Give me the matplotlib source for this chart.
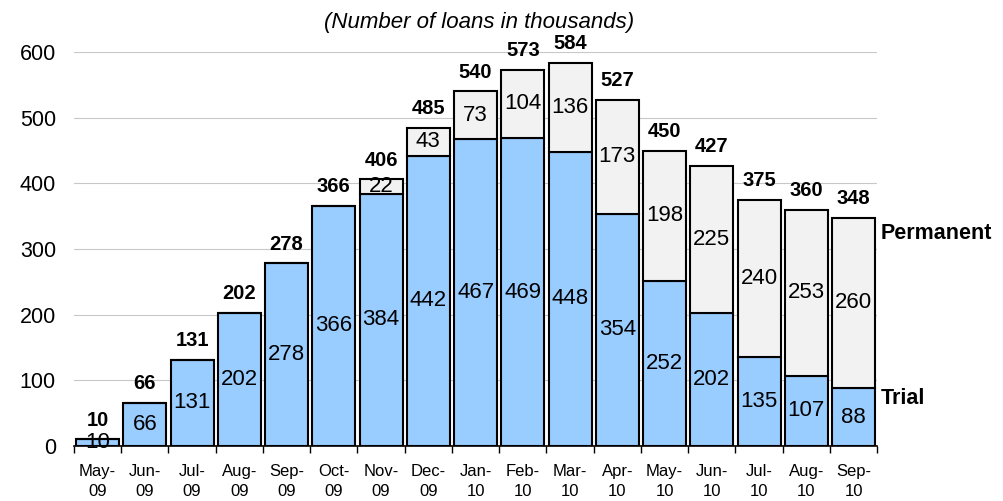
import matplotlib
matplotlib.use("Agg")
import matplotlib.pyplot as plt
import numpy as np

plt.rcParams['font.family'] = ['Liberation Sans', 'DejaVu Sans']

months = ["May-\n09", "Jun-\n09", "Jul-\n09", "Aug-\n09", "Sep-\n09", "Oct-\n09", "Nov-\n09",
          "Dec-\n09", "Jan-\n10", "Feb-\n10", "Mar-\n10", "Apr-\n10", "May-\n10", "Jun-\n10",
          "Jul-\n10", "Aug-\n10", "Sep-\n10"]
trial = [10, 66, 131, 202, 278, 366, 384, 442, 467, 469, 448, 354, 252, 202, 135, 107, 88]
permanent = [0, 0, 0, 0, 0, 0, 22, 43, 73, 104, 136, 173, 198, 225, 240, 253, 260]
totals = [t + p for t, p in zip(trial, permanent)]

fig = plt.figure(figsize=(10.04, 5.01), dpi=100)
ax = fig.add_axes([0.0737, 0.1098, 0.80, 0.7862])

x = np.arange(len(months))
w = 0.91
ax.bar(x, trial, width=w, color="#99CCFF", edgecolor="black", linewidth=1.5, zorder=3)
ax.bar(x, permanent, width=w, bottom=trial, color="#F2F2F2", edgecolor="black", linewidth=1.5, zorder=3)

for i in range(len(x)):
    ax.text(x[i], trial[i] / 2, str(trial[i]), ha="center", va="center", fontsize=16, zorder=4)
    if permanent[i] > 0:
        ax.text(x[i], trial[i] + permanent[i] / 2, str(permanent[i]), ha="center", va="center",
                fontsize=16, zorder=4)
    ax.annotate(str(totals[i]), (x[i], totals[i]), xytext=(0, 10), textcoords="offset points",
                ha="center", va="baseline", fontsize=14.5, fontweight="bold", annotation_clip=False)

ax.set_xlim(-0.5, len(x) - 0.5)
ax.set_ylim(0, 600)
ax.set_yticks(range(0, 601, 100))
ax.yaxis.grid(True, color="#C8C8C8", linewidth=0.8, zorder=0)
ax.set_axisbelow(True)
ax.tick_params(axis="y", length=0, labelsize=15.5, pad=13)

ax.set_xticks(x)
ax.set_xticklabels(months, fontsize=12, linespacing=1.45)
ax.tick_params(axis="x", length=0, pad=13)
ax.set_xticks(np.arange(-0.5, len(x), 1), minor=True)
ax.tick_params(axis="x", which="minor", length=5, width=1, direction="out")

for s in ["left", "right", "top"]:
    ax.spines[s].set_visible(False)
ax.spines["bottom"].set_linewidth(1.2)

ax.text(len(x) - 0.5 + 0.07, 324, "Permanent", ha="left", va="center", fontsize=15.5, fontweight="bold")
ax.text(len(x) - 0.5 + 0.07, 73, "Trial", ha="left", va="center", fontsize=15.5, fontweight="bold")

fig.text(0.477, 0.955, "(Number of loans in thousands)", ha="center", va="center",
         fontsize=16, fontstyle="italic")

fig.savefig("out.png", dpi=100)
